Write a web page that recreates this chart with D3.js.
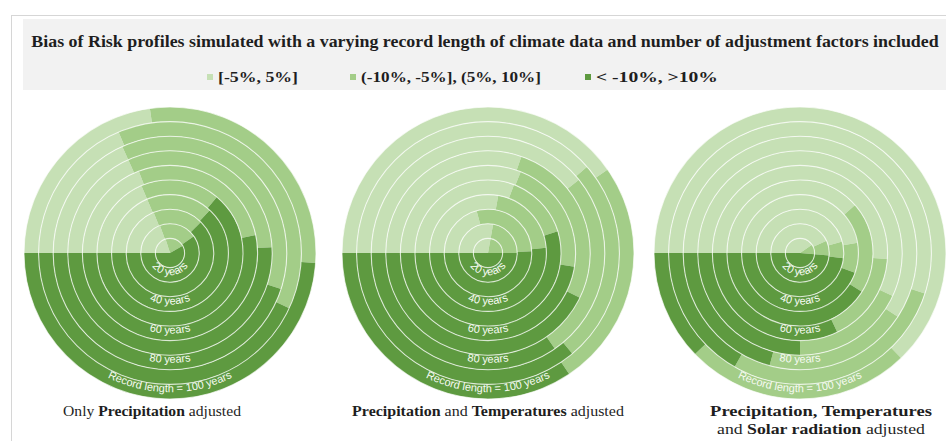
<!DOCTYPE html>
<html>
<head>
<meta charset="utf-8">
<script src="https://cdn.jsdelivr.net/npm/d3@7"></script>
<style>
  html, body { margin: 0; padding: 0; background: #ffffff; }
  svg { display: block; }
  text { white-space: pre; }
</style>
</head>
<body>
<svg id="chart" width="946" height="441"></svg>
<script>
// ---- data -------------------------------------------------------------
// record lengths (years), one ring each, innermost first
const recordLengths = [10, 20, 30, 40, 50, 60, 70, 80, 90, 100];

// bias classes (legend order)
const biasClasses = ["[-5%, 5%]", "(-10%, -5%], (5%, 10%]", "< -10%, >10%"];

// share of simulations (%) in each bias class, per record length
// panel 1: only precipitation adjusted
const precipLow  = [20.0, 19.4, 18.9, 18.6, 18.6, 19.2, 18.3, 18.3, 18.6, 22.8];
const precipMid  = [21.7, 20.8, 18.6, 18.3, 17.5, 27.5, 30.8, 36.7, 38.3, 28.3];
const precipHigh = [58.3, 59.8, 62.5, 63.1, 63.9, 53.3, 50.9, 45.0, 43.1, 48.9];

// panel 2: precipitation and temperatures adjusted
const precTempLow  = [27.8, 27.8, 20.8, 27.8, 30.8, 31.1, 30.3, 39.2, 38.6, 40.3];
const precTempMid  = [22.2, 22.2, 28.6, 20.8, 14.4, 21.4, 26.9, 26.1, 25.3, 25.3];
const precTempHigh = [50.0, 50.0, 50.6, 51.4, 54.8, 47.5, 42.8, 34.7, 36.1, 34.4];

// panel 3: precipitation, temperatures and solar radiation adjusted
const allLow  = [40.3, 43.1, 45.8, 47.2, 38.6, 51.1, 56.9, 59.2, 55.0, 62.8];
const allMid  = [11.1,  8.3,  6.1,  8.3, 20.3, 16.9, 18.1, 20.0, 28.3, 25.0];
const allHigh = [48.6, 48.6, 48.1, 44.5, 41.1, 32.0, 25.0, 20.8, 16.7, 12.2];

// ring labels
const ringLabels = ["20 years", "40 years", "60 years", "80 years", "Record length = 100 years"];
const labelledRings = [20, 40, 60, 80, 100];

const chartTitle = "Bias of Risk profiles simulated with a varying record length of climate data and number of adjustment factors included";

// ---- layout & style ---------------------------------------------------
const colors = ["#c6e0b5", "#a3cd88", "#5e9a40"];
const keys = ["low", "mid", "high"];
const R = 146;
const cy = 253;

const panels = [
  { cx: 170, low: precipLow, mid: precipMid, high: precipHigh,
    caption: [[["Only ", false], ["Precipitation", true], [" adjusted", false]]],
    capX: 152, capW: [178] },
  { cx: 488, low: precTempLow, mid: precTempMid, high: precTempHigh,
    caption: [[["Precipitation", true], [" and ", false], ["Temperatures", true], [" adjusted", false]]],
    capX: 488, capW: [272] },
  { cx: 800, low: allLow, mid: allMid, high: allHigh,
    caption: [[["Precipitation, Temperatures", true]],
              [["and ", false], ["Solar radiation", true], [" adjusted", false]]],
    capX: 821, capW: [222, 208] }
];

const svg = d3.select("#chart");

// frame and header band
svg.append("rect").attr("x", 11.5).attr("y", 15.5).attr("width", 960).attr("height", 460)
  .attr("fill", "none").attr("stroke", "#d6d6d6").attr("stroke-width", 1);
svg.append("rect").attr("x", 23).attr("y", 19).attr("width", 930).attr("height", 71)
  .attr("fill", "#f2f2f2");

// stretch a text horizontally so it spans a given width, centred on cx
function fitWidth(sel, cx, y, width) {
  const w = sel.node().getComputedTextLength();
  sel.attr("x", 0).attr("text-anchor", "middle")
     .attr("transform", `translate(${cx},${y}) scale(${width / w},1)`);
}

const serif = "'Liberation Serif', 'Times New Roman', serif";

const title = svg.append("text")
  .attr("font-family", serif).attr("font-weight", "bold").attr("font-size", 16.5)
  .attr("fill", "#1e1e1e").text(chartTitle);
fitWidth(title, 485, 47, 908);

// legend
const legendItems = [
  { sx: 207, tx: 218, w: 80 },
  { sx: 350, tx: 361, w: 180 },
  { sx: 585, tx: 596, w: 122 }
];
biasClasses.forEach((label, i) => {
  const it = legendItems[i];
  svg.append("rect").attr("x", it.sx).attr("y", 74).attr("width", 6).attr("height", 6)
    .attr("fill", colors[i]);
  const t = svg.append("text")
    .attr("font-family", serif).attr("font-weight", "bold").attr("font-size", 14.5)
    .attr("fill", "#1e1e1e").text(label);
  fitWidth(t, it.tx + it.w / 2, 82, it.w);
});

// ---- radial stacked rings ---------------------------------------------
const angle = d3.scaleLinear().domain([0, 100]).range([-Math.PI / 2, 1.5 * Math.PI]);
const radius = d3.scaleBand().domain(recordLengths).range([0, R]).padding(0);
const bw = radius.bandwidth();

const arc = d3.arc()
  .innerRadius(d => radius(d.data.len))
  .outerRadius(d => radius(d.data.len) + bw)
  .startAngle(d => angle(d[0]))
  .endAngle(d => angle(d[1]));

const stack = d3.stack().keys(keys);

panels.forEach((p, pi) => {
  const rows = recordLengths.map((len, i) => ({ len, low: p.low[i], mid: p.mid[i], high: p.high[i] }));
  const series = stack(rows);
  const g = svg.append("g").attr("transform", `translate(${p.cx},${cy})`);

  g.selectAll("g.series").data(series).join("g")
    .attr("class", "series")
    .attr("fill", (s, i) => colors[i])
    .selectAll("path").data(s => s).join("path")
    .attr("d", arc);

  // white ring separators
  g.selectAll("circle.sep").data(recordLengths).join("circle")
    .attr("class", "sep")
    .attr("r", d => radius(d) + bw)
    .attr("fill", "none")
    .attr("stroke", "#ffffff").attr("stroke-opacity", 0.7).attr("stroke-width", 1.1);

  // curved ring labels along the bottom
  labelledRings.forEach((len, li) => {
    const r = radius(len) + bw / 2 + 0.5;
    const id = `ring-${pi}-${len}`;
    g.append("path").attr("id", id).attr("fill", "none")
      .attr("d", `M ${-r},0 A ${r} ${r} 0 0 0 ${r},0`);
    g.append("text")
      .attr("font-family", "'Liberation Sans', Arial, sans-serif")
      .attr("font-size", 11).attr("fill", "#f6faf2")
      .append("textPath").attr("href", `#${id}`)
      .attr("startOffset", "50%").attr("text-anchor", "middle")
      .text(ringLabels[li]);
  });

  // caption
  p.caption.forEach((line, k) => {
    const t = svg.append("text")
      .attr("font-family", serif).attr("font-size", 14).attr("fill", "#1e1e1e");
    line.forEach(([txt, bold]) => {
      t.append("tspan").attr("font-weight", bold ? "bold" : "normal").text(txt);
    });
    fitWidth(t, p.capX, 416 + k * 18, p.capW[k]);
  });
});
</script>
</body>
</html>
